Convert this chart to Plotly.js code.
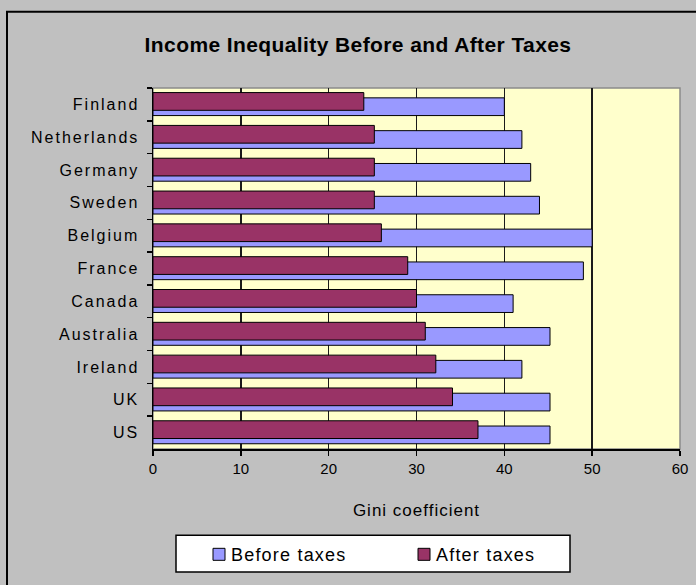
<!DOCTYPE html>
<html>
<head>
<meta charset="utf-8">
<script src="https://cdn.plot.ly/plotly-3.0.1.min.js"></script>
<style>
body{margin:0;padding:0;background:#c0c0c0;}
#chart{width:696px;height:585px;}
#chart .ytick text{letter-spacing:2px;}
#chart .xtitle{letter-spacing:1px;}
#chart .legendtext{letter-spacing:1.2px;transform:translateX(-8px);}
#chart .gtitle{letter-spacing:0.4px;}
</style>
</head>
<body>
<div id="chart"></div>
<script>
const countries = ['Finland','Netherlands','Germany','Sweden','Belgium','France','Canada','Australia','Ireland','UK','US'];
const beforeTaxes = [40, 42, 43, 44, 50, 49, 41, 45.2, 42, 45.2, 45.2];
const afterTaxes = [24, 25.2, 25.2, 25.2, 26, 29, 30, 31, 32.2, 34.1, 37];
const xTicks = [0, 10, 20, 30, 40, 50, 60];

const font = 'Liberation Sans, Arial, sans-serif';
const L = 153, R = 16, T = 88, B = 133, W = 696, H = 585;
const pw = W - L - R, ph = H - T - B;
const px = v => (v - L) / pw;
const py = v => (H - B - v) / ph;

const traces = [
  {
    type: 'bar', orientation: 'h', name: 'Before taxes',
    y: countries, x: beforeTaxes,
    offset: -0.2, width: 0.54,
    marker: {color: '#9999ff', line: {color: '#000000', width: 1}},
    hoverinfo: 'x+y'
  },
  {
    type: 'bar', orientation: 'h', name: 'After taxes',
    y: countries, x: afterTaxes,
    offset: -0.36, width: 0.54,
    marker: {color: '#993366', line: {color: '#000000', width: 1}},
    hoverinfo: 'x+y'
  }
];

const layout = {
  width: W, height: H,
  margin: {l: L, r: R, t: T, b: B, pad: 0},
  paper_bgcolor: '#c0c0c0',
  plot_bgcolor: '#ffffcc',
  barmode: 'overlay',
  showlegend: true,
  font: {family: font, color: '#000000', size: 15},
  title: {
    text: '<b>Income Inequality Before and After Taxes</b>',
    font: {family: font, size: 21, color: '#000000'},
    xref: 'container', yref: 'container',
    x: 358 / W, y: 1 - 45 / H, xanchor: 'center', yanchor: 'middle'
  },
  xaxis: {
    range: [0, 60], tickvals: xTicks, ticktext: xTicks.map(String),
    showgrid: true, gridcolor: '#1a1a1a', gridwidth: 1.5,
    zeroline: false, showline: true, linecolor: '#000000', linewidth: 1.5,
    ticks: 'outside', ticklen: 5, tickcolor: '#000000', tickwidth: 1.5,
    tickfont: {family: font, size: 15, color: '#000000'},
    title: {text: 'Gini coefficient', font: {family: font, size: 17, color: '#000000'}, standoff: 28},
    fixedrange: true
  },
  yaxis: {
    type: 'category', categoryorder: 'array', categoryarray: countries,
    autorange: 'reversed',
    showgrid: false, zeroline: false, showline: true, linecolor: '#000000', linewidth: 1.5,
    ticks: 'outside', tickson: 'boundaries', ticklen: 5, tickcolor: '#000000', tickwidth: 1.5,
    tickfont: {family: font, size: 16, color: '#000000'},
    ticklabelstandoff: 9,
    fixedrange: true
  },
  legend: {
    orientation: 'h',
    x: px(199), y: py(558.5), xanchor: 'left', yanchor: 'middle',
    bgcolor: 'rgba(0,0,0,0)', borderwidth: 0,
    font: {family: font, size: 18, color: '#000000'},
    entrywidth: 160, entrywidthmode: 'pixels',
    traceorder: 'normal'
  },
  shapes: [
    {type: 'rect', xref: 'paper', yref: 'paper', x0: 0, x1: 1, y0: 0, y1: 1,
     line: {color: '#8a8a8a', width: 1.5}, fillcolor: 'rgba(0,0,0,0)', layer: 'below'},
    {type: 'path', xref: 'paper', yref: 'paper',
     path: 'M ' + px(7) + ' ' + py(600) + ' L ' + px(7) + ' ' + py(11) + ' L ' + px(700) + ' ' + py(11),
     line: {color: '#000000', width: 2}},
    {type: 'rect', xref: 'paper', yref: 'paper', x0: px(176), x1: px(570), y0: py(576), y1: py(539),
     line: {color: '#000000', width: 1.5}, fillcolor: '#ffffff', layer: 'below'}
  ]
};

Plotly.newPlot('chart', traces, layout, {displayModeBar: false, staticPlot: true});
</script>
</body>
</html>
